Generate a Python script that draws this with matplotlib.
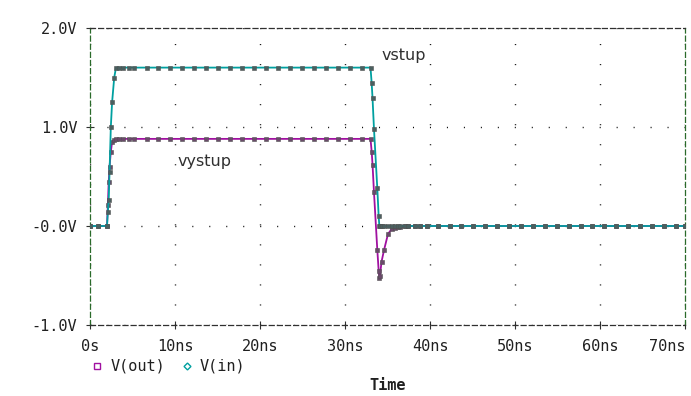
import numpy as np
import matplotlib
matplotlib.use("Agg")
import matplotlib.pyplot as plt
from matplotlib.lines import Line2D

# ---- data ----
t_ns = ([0.0, 0.9, 2.0, 2.1, 2.2, 2.3, 2.45, 2.6, 2.85, 3.06]
        + [3.41, 3.88, 4.59, 5.18, 6.7, 8.0, 9.41, 10.82, 12.23, 13.64, 15.05,
           16.46, 17.87, 19.28, 20.69, 22.1, 23.51, 24.92, 26.33, 27.74, 29.15,
           30.56, 31.97, 33.0]
        + [33.14, 33.24, 33.41, 33.8, 33.96, 34.04, 34.1, 34.3, 34.6, 35.06,
           35.5, 35.9, 36.2, 36.5]
        + [37.1, 37.4, 38.2, 38.8, 39.6, 40.9, 42.4, 43.7, 45.1, 46.5, 47.9,
           49.3, 50.7, 52.1, 53.5, 54.9, 56.35, 57.76, 59.06, 60.47, 61.88,
           63.3, 64.7, 66.1, 67.5, 68.9, 70.0])

v_in = ([0.0, 0.0, 0.0, 0.14, 0.26, 0.55, 1.0, 1.25, 1.5, 1.6]
        + [1.6] * 24
        + [1.44, 1.29, 0.98, 0.38, 0.1, 0.0, 0.0, 0.0, 0.0, 0.0,
           0.0, 0.0, 0.0, 0.0]
        + [0.0] * 27)

v_out = ([0.0, 0.0, 0.0, 0.21, 0.44, 0.60, 0.75, 0.85, 0.87, 0.875]
         + [0.88] * 24
         + [0.75, 0.62, 0.34, -0.24, -0.45, -0.53, -0.51, -0.36, -0.24, -0.08,
            -0.03, -0.02, -0.01, -0.01]
         + [0.0] * 27)

x_ticks = [0, 10, 20, 30, 40, 50, 60, 70]
x_tick_labels = ["0s", "10ns", "20ns", "30ns", "40ns", "50ns", "60ns", "70ns"]
y_ticks = [-1.0, 0.0, 1.0, 2.0]
y_tick_labels = ["-1.0V", "-0.0V", "1.0V", "2.0V"]

C_OUT = "#a010a0"
C_IN = "#00a0a0"
MONO = "DejaVu Sans Mono"

W, H = 691, 396
fig = plt.figure(figsize=(W / 100, H / 100), dpi=100)
ax = fig.add_axes([90 / W, 1 - 325 / H, (685 - 90) / W, (325 - 28) / H])

ax.plot(t_ns, v_out, color=C_OUT, lw=1.3, marker="s", ms=2.3,
        mfc="#6a4a6a", mec="#505050", mew=0.4, zorder=3)
ax.plot(t_ns, v_in, color=C_IN, lw=1.3, marker="s", ms=2.3,
        mfc="#4a6060", mec="#505050", mew=0.4, zorder=4)

ax.set_xlim(0, 70)
ax.set_ylim(-1.0, 2.0)
ax.set_xticks(x_ticks)
ax.set_xticklabels(x_tick_labels, family=MONO, fontsize=11)
ax.set_yticks(y_ticks)
ax.set_yticklabels(y_tick_labels, family=MONO, fontsize=11)
ax.get_xticklabels()[-1].set_ha("right")
ax.get_xticklabels()[-1].set_x(70)
ax.tick_params(axis="both", direction="inout", length=6, width=0.8,
               color="#303030", labelcolor="#202020")
ax.tick_params(axis="x", pad=7)
ax.tick_params(axis="y", pad=6)

# dotted grid (points)
ax.xaxis.grid(True, color="black", lw=1.0, linestyle=(0, (0.72, 13.7)))
ax.yaxis.grid(True, color="black", lw=1.0, linestyle=(0, (0.72, 11.5)))
ax.set_axisbelow(True)

for s in ("top", "bottom"):
    ax.spines[s].set_linestyle((0, (4, 2.5)))
    ax.spines[s].set_color("#303030")
    ax.spines[s].set_linewidth(0.9)
for s in ("left", "right"):
    ax.spines[s].set_linestyle((0, (4, 2.5)))
    ax.spines[s].set_color("#2a6a2a")
    ax.spines[s].set_linewidth(0.9)

# annotations
ax.text(34.3, 1.72, "vstup", fontsize=11.5, color="#303030", va="center")
ax.text(10.3, 0.65, "vystup", fontsize=11.5, color="#303030", va="center")

# legend
fy = 1 - 366 / H
fig.add_artist(Line2D([97 / W], [fy], marker="s", ms=5, mfc="none",
                      mec=C_OUT, mew=1.0, ls="none", transform=fig.transFigure))
fig.text(111 / W, fy, "V(out)", family=MONO, fontsize=11, va="center",
         color="#202020")
fig.add_artist(Line2D([187 / W], [fy], marker="D", ms=3.5, mfc="none",
                      mec=C_IN, mew=1.0, ls="none", transform=fig.transFigure))
fig.text(200 / W, fy, "V(in)", family=MONO, fontsize=11, va="center",
         color="#202020")

fig.text(388 / W, 1 - 386 / H, "Time", family=MONO, fontsize=11,
         fontweight="bold", ha="center", va="center", color="#202020")

fig.savefig("out.png", dpi=100)
